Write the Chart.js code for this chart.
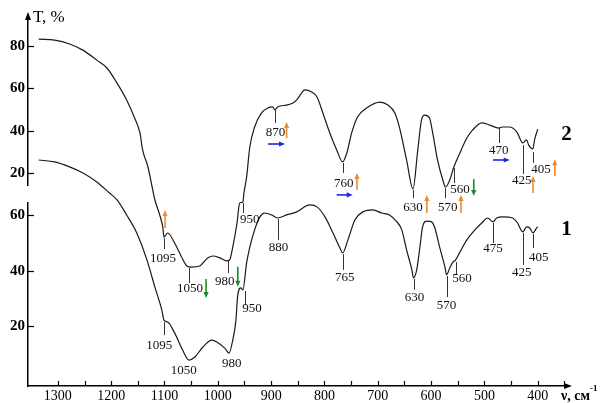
<!DOCTYPE html>
<html>
<head>
<meta charset="utf-8">
<script src="https://cdn.jsdelivr.net/npm/chart.js@4.4.0/dist/chart.umd.min.js"></script>
<style>
  html, body { margin: 0; padding: 0; background: #fff; }
  #wrap { width: 606px; height: 403px; }
</style>
</head>
<body>
<div id="wrap"><canvas id="irChart"></canvas></div>
<script>
// spectrum 2 (upper trace): wavenumber, cm-1 / transmittance on the upper scale
const wn2 = [1336,1306,1278,1253,1227,1208,1189,1171,1156,1146,1141,1131,1124,1118,1109,1103,1101,1094,1081,1068,1058,1049,1034,1019,1009,996,983,978,972,964,959,953,951,946,940,931,918,906,897,893,888,871,859,852,843,837,824,814,803,790,777,766,758,749,738,721,696,681,668,659,646,634,625,618,612,603,597,588,578,573,565,558,546,533,522,505,490,473,466,453,439,428,421,417,409,406,400];
const t2 = [83.1,82.6,80.8,77.9,73.2,69.5,62.4,54.5,46.0,39.0,31.0,23.0,14.6,7.5,0.5,-5.6,-9.9,-8.0,-12.7,-19.3,-23.5,-24.0,-23.5,-19.7,-18.8,-19.7,-21.1,-20.7,-14.6,-3.3,6.1,6.6,10.8,18.3,32.4,41.8,48.4,50.7,51.2,49.8,51.2,52.1,53.1,54.5,57.7,59.2,58.2,55.9,48.4,39.0,31.0,25.4,29.6,39.0,46.5,50.7,53.5,52.1,48.4,41.3,26.3,12.7,31.0,45.1,47.4,46.0,39.0,26.3,16.9,13.6,16.9,22.5,29.6,36.6,40.4,43.7,42.7,41.3,41.8,41.8,39.4,34.3,35.7,33.3,31.5,35.7,40.8];

// spectrum 1 (lower trace) on the lower scale
const wn1 = [1336,1306,1278,1253,1227,1203,1189,1171,1152,1133,1118,1105,1101,1094,1081,1066,1054,1043,1028,1011,1002,987,979,972,966,963,957,953,946,940,931,921,912,899,888,871,852,828,814,799,784,771,766,756,743,728,709,693,678,664,655,646,636,633,627,621,616,608,599,593,584,574,571,565,559,554,546,533,518,505,494,484,477,466,447,438,428,421,415,409,402,400];
const t1 = [80.0,79.3,77.5,75.3,72.1,68.1,65.6,60.2,53.7,44.0,34.2,25.9,22.3,21.6,17.7,11.5,7.9,9.0,12.6,15.1,14.4,12.2,10.4,15.1,22.3,30.6,33.9,33.2,42.9,48.6,54.8,59.5,60.9,60.2,59.1,60.2,61.3,63.8,63.1,59.5,53.7,48.3,46.5,51.2,58.4,61.3,62.0,60.9,60.2,57.7,54.8,47.6,40.4,37.5,40.4,48.6,55.9,58.0,57.7,55.5,48.6,41.4,38.6,41.1,43.2,44.0,46.8,51.2,54.8,57.3,59.1,57.7,59.1,59.5,59.1,57.3,54.1,55.9,55.5,53.7,55.5,55.9];

// tick labels
const yTicksTop = [20, 40, 60, 80];
const yTicksBottom = [20, 40, 60];

// band labels
const bands2 = ['1095','1050','980','950','870','760','630','570','560','470','425','405'];
const bands1 = ['1095','1050','980','950','880','765','630','570','560','475','425','405'];

// where each band label sits: [marker x, marker from, marker to, label x, label y]
const marks2 = [
  [1101,-10.4,-15.5,1103,-20.2],[1054,-24.4,-31.5,1052,-34.3],[981,-21.1,-26.8,987,-31.0],
  [953,6.1,1.4,940,-1.9],[893,49.8,43.7,892,39.0],[766,24.9,20.2,764,15.0],
  [634,12.2,8.4,634,3.8],[573,13.1,8.4,569,3.8],[557.5,22.5,15.5,546,12.2],
  [473,41.3,34.3,473,30.5],[428,33.3,19.7,430,16.4],[409,30.0,24.9,394,22.0]
];
const marks1 = [
  [1101,21.6,16.9,1110,13.3],[1054,7.9,7.9,1064,4.0],[979,10.4,10.4,974,6.8],
  [949,32.8,27.7,936,26.3],[887.5,58.7,51.2,886,48.3],[766,46.1,40.4,762,37.8],
  [632.5,37.1,33.2,631,30.3],[571,38.2,30.6,571,27.7],[554,43.2,38.6,542,37.1],
  [484,57.3,50.1,484,47.9],[428,53.7,42.2,430,39.3],[409,53.3,48.3,398,44.7]
];
// coloured arrows next to spectrum 2: [x1, y1, x2, y2, colour] tail -> head
const ORANGE = '#f28a30', BLUE = '#2323e0', GREEN = '#1c8c2a';
const arrows = [
  [1099,-5.6,1099,2.8,ORANGE],[1022,-29.6,1022,-38.5,GREEN],[962.5,-23.9,962.5,-33.3,GREEN],
  [871,36.6,871,44.2,ORANGE],[906,33.8,874,33.8,BLUE],
  [739,12.2,739,20.2,ORANGE],[777,9.9,747,9.9,BLUE],
  [608,1.4,608,9.9,ORANGE],[544,1.4,544,9.9,ORANGE],[520,17.3,520,9.4,GREEN],
  [484,26.3,452.5,26.3,BLUE],[409,10.8,409,18.8,ORANGE],[368,18.8,368,26.7,ORANGE]
];

const SERIF = "'Liberation Serif', 'Times New Roman', serif";

function arrowLine(ctx, x1, y1, x2, y2, color) {
  const ang = Math.atan2(y2 - y1, x2 - x1);
  ctx.strokeStyle = color; ctx.fillStyle = color; ctx.lineWidth = 1.6;
  ctx.beginPath();
  ctx.moveTo(x1, y1);
  ctx.lineTo(x2 - 4 * Math.cos(ang), y2 - 4 * Math.sin(ang));
  ctx.stroke();
  ctx.beginPath();
  ctx.moveTo(x2, y2);
  ctx.lineTo(x2 - 6 * Math.cos(ang) + 2.6 * Math.sin(ang), y2 - 6 * Math.sin(ang) - 2.6 * Math.cos(ang));
  ctx.lineTo(x2 - 6 * Math.cos(ang) - 2.6 * Math.sin(ang), y2 - 6 * Math.sin(ang) + 2.6 * Math.cos(ang));
  ctx.closePath();
  ctx.fill();
}

const decor = {
  id: 'decor',
  afterDraw(chart) {
    const { ctx, chartArea: a, scales } = chart;
    const xs = scales.x, yt = scales.yTop, yb = scales.yBot;
    ctx.save();

    // tick marks point inwards
    ctx.strokeStyle = '#000';
    ctx.lineWidth = 1.2;
    xs.ticks.filter(t => t.value <= 1300).forEach(t => {
      const px = Math.round(xs.getPixelForValue(t.value)) + 0.5;
      ctx.beginPath(); ctx.moveTo(px, a.bottom); ctx.lineTo(px, a.bottom - 5); ctx.stroke();
    });
    [yt, yb].forEach(s => s.ticks.forEach(t => {
      const py = Math.round(s.getPixelForValue(t.value)) + 0.5;
      ctx.beginPath(); ctx.moveTo(a.left, py); ctx.lineTo(a.left + 6, py); ctx.stroke();
    }));

    // axis arrow heads
    ctx.fillStyle = '#000';
    ctx.beginPath();
    ctx.moveTo(a.left, a.top - 3); ctx.lineTo(a.left - 3, a.top + 5); ctx.lineTo(a.left + 3, a.top + 5);
    ctx.closePath(); ctx.fill();
    ctx.beginPath();
    ctx.moveTo(a.right + 6, a.bottom); ctx.lineTo(a.right - 2, a.bottom - 3); ctx.lineTo(a.right - 2, a.bottom + 3);
    ctx.closePath(); ctx.fill();

    // band markers and labels
    ctx.font = '13px ' + SERIF;
    ctx.textAlign = 'center';
    ctx.textBaseline = 'middle';
    const drawBands = (labels, marks, ys) => {
      labels.forEach((txt, i) => {
        const [at, from, to, lx, ly] = marks[i];
        ctx.strokeStyle = '#333'; ctx.lineWidth = 1;
        if (from !== to) {
          const px = Math.round(xs.getPixelForValue(at)) + 0.5;
          ctx.beginPath();
          ctx.moveTo(px, ys.getPixelForValue(from));
          ctx.lineTo(px, ys.getPixelForValue(to));
          ctx.stroke();
        }
        ctx.fillStyle = '#111';
        ctx.fillText(txt, xs.getPixelForValue(lx), ys.getPixelForValue(ly));
      });
    };
    drawBands(bands2, marks2, yt);
    drawBands(bands1, marks1, yb);

    arrows.forEach(([x1, y1, x2, y2, c]) => {
      arrowLine(ctx, xs.getPixelForValue(x1), yt.getPixelForValue(y1),
        xs.getPixelForValue(x2), yt.getPixelForValue(y2), c);
    });

    // curve numbers
    ctx.fillStyle = '#000';
    ctx.font = 'bold 21px ' + SERIF;
    ctx.fillText('2', xs.getPixelForValue(346), yt.getPixelForValue(38));
    ctx.fillText('1', xs.getPixelForValue(346), yb.getPixelForValue(54.8));

    // axis titles
    ctx.textAlign = 'left';
    ctx.font = '17px ' + SERIF;
    ctx.fillText('T, %', a.left + 5, a.top + 3);
    ctx.font = 'bold 14px ' + SERIF;
    ctx.fillText('ν, см', a.right - 5, a.bottom + 10);
    const w = ctx.measureText('ν, см').width;
    ctx.font = 'bold 9px ' + SERIF;
    ctx.fillText('-1', a.right - 5 + w, a.bottom + 3);
    ctx.restore();
  }
};

const yCommon = {
  type: 'linear',
  position: 'left',
  stack: 'y',
  afterFit: s => { s.width = 28; },
  grid: { display: true, drawOnChartArea: false, drawTicks: false },
  border: { display: true, color: '#000', width: 1.5 },
  ticks: { padding: 3, color: '#000', font: { family: SERIF, size: 15, weight: 'bold' } }
};

new Chart(document.getElementById('irChart'), {
  type: 'line',
  data: {
    datasets: [
      {
        label: '2',
        data: wn2.map((x, i) => ({ x: x, y: t2[i] })),
        yAxisID: 'yTop',
        borderColor: '#1a1a1a',
        borderWidth: 1.2,
        pointRadius: 0,
        cubicInterpolationMode: 'monotone',
        clip: false
      },
      {
        label: '1',
        data: wn1.map((x, i) => ({ x: x, y: t1[i] })),
        yAxisID: 'yBot',
        borderColor: '#1a1a1a',
        borderWidth: 1.2,
        pointRadius: 0,
        cubicInterpolationMode: 'monotone',
        clip: false
      }
    ]
  },
  options: {
    responsive: true,
    maintainAspectRatio: false,
    animation: false,
    layout: { padding: { left: 0, right: 40, top: 15, bottom: 0 } },
    plugins: { legend: { display: false }, tooltip: { enabled: false } },
    scales: {
      x: {
        type: 'linear',
        reverse: true,
        min: 347,
        max: 1356,
        afterFit: s => { s.height = 17; },
        grid: { display: true, drawOnChartArea: false, drawTicks: false },
        border: { color: '#000', width: 1.5 },
        ticks: {
          stepSize: 50,
          includeBounds: false,
          autoSkip: false,
          maxRotation: 0,
          padding: 2,
          color: '#000',
          font: { family: SERIF, size: 14 },
          callback: v => (v % 100 === 0 ? String(v) : '')
        }
      },
      yTop: Object.assign({}, yCommon, {
        stackWeight: 170, weight: 3, min: 14.55, max: 94.4,
        afterBuildTicks: s => { s.ticks = yTicksTop.map(v => ({ value: v })); }
      }),
      yGap: {
        type: 'linear', position: 'left', stack: 'y', stackWeight: 18, weight: 2,
        min: 0, max: 1,
        afterFit: s => { s.width = 28; },
        grid: { display: false }, border: { display: false }, ticks: { display: false }
      },
      yBot: Object.assign({}, yCommon, {
        stackWeight: 183, weight: 1, min: -1.44, max: 64.5,
        afterBuildTicks: s => { s.ticks = yTicksBottom.map(v => ({ value: v })); }
      })
    }
  },
  plugins: [decor]
});
</script>
</body>
</html>
